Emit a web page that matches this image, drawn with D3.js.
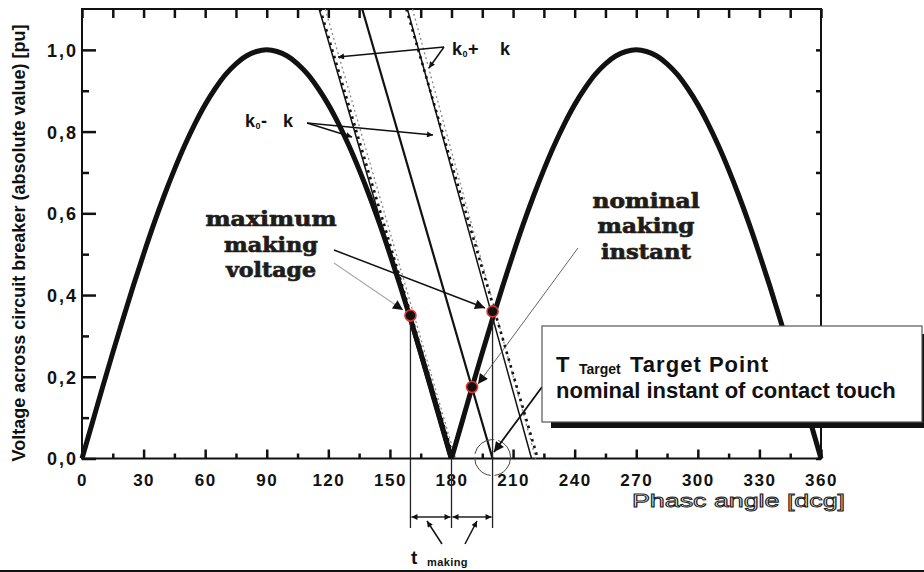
<!DOCTYPE html>
<html>
<head>
<meta charset="utf-8">
<script src="https://cdn.jsdelivr.net/npm/d3@7"></script>
<style>
  body { margin: 0; background: #fff; }
  svg { display: block; font-family: "Liberation Sans", Arial, sans-serif; }
</style>
</head>
<body>
<div class="canvas"></div>
<script>
// canvas size and plot frame
const width = 924;
const height = 572;
const marginTop = 9;
const marginLeft = 82;
const plotRight = 821;
const plotBottom = 458.5;

// voltage across the breaker, every 5 deg (one half wave)
const halfWaveAngles = [0, 5, 10, 15, 20, 25, 30, 35, 40, 45, 50, 55, 60, 65, 70, 75, 80, 85, 90,
  95, 100, 105, 110, 115, 120, 125, 130, 135, 140, 145, 150, 155, 160, 165, 170, 175, 180];
const halfWaveVoltage = [0, 0.087, 0.174, 0.259, 0.342, 0.423, 0.500, 0.574, 0.643, 0.707, 0.766, 0.819, 0.866, 0.906, 0.940, 0.966, 0.985, 0.996, 1.000,
  0.996, 0.985, 0.966, 0.940, 0.906, 0.866, 0.819, 0.766, 0.707, 0.643, 0.574, 0.500, 0.423, 0.342, 0.259, 0.174, 0.087, 0];
const halfWaveStarts = [0, 180];

// axis ticks
const xTicks = [0, 30, 60, 90, 120, 150, 180, 210, 240, 270, 300, 330, 360];
const xMinorTicks = [15, 45, 75, 105, 135, 165, 195, 225, 255, 285, 315, 345];
const yTicks = [0, 0.2, 0.4, 0.6, 0.8, 1.0];
const yTickLabels = ["0,0", "0,2", "0,4", "0,6", "0,8", "1,0"];
const yMinorTicks = [0.1, 0.3, 0.5, 0.7, 0.9];
const yMax = 1.1;

// dielectric strength lines: [angle at top of frame (1.1 pu), angle at 0 pu]
const rddsSolid = [[115.5, 179], [136.5, 200], [158.5, 219]];
const rddsBlackDotted = [[116, 181], [158, 222]];
const rddsGrayDotted = [[118.5, 182], [161, 221]];

// marked points: maximum making voltage, target point, nominal making instant
const markAngles = [160, 190, 200];
const markVoltages = [0.35, 0.175, 0.36];

// t making dimension
const makingAngles = [160, 180, 200];

const x = d3.scaleLinear().domain([0, 360]).range([marginLeft, plotRight]);
const y = d3.scaleLinear().domain([0, yMax]).range([plotBottom, marginTop]);

const svg = d3.select(".canvas").append("svg")
  .attr("width", width)
  .attr("height", height);

// arrow heads
const defs = svg.append("defs");
function marker(id, w, h) {
  defs.append("marker")
    .attr("id", id)
    .attr("viewBox", "0 0 10 10")
    .attr("refX", 10).attr("refY", 5)
    .attr("markerUnits", "userSpaceOnUse")
    .attr("markerWidth", w).attr("markerHeight", h)
    .attr("orient", "auto-start-reverse")
    .append("path").attr("d", "M0,0L10,5L0,10z").attr("fill", "#111");
}
marker("arrow", 12, 10);
marker("arrowSmall", 8, 6);

// axes (ticks pointing inward)
function styleAxis(g) {
  g.select(".domain").remove();
  g.selectAll(".tick line").attr("stroke", "#111").attr("stroke-width", 2.5);
}

svg.append("g")
  .attr("transform", `translate(0,${plotBottom})`)
  .call(d3.axisBottom(x).tickValues(xTicks).tickSize(-9).tickPadding(15))
  .call(styleAxis)
  .call(g => g.selectAll("text")
    .attr("font-size", 17).attr("font-weight", "bold").attr("fill", "#111")
    .attr("letter-spacing", 1.5));

svg.append("g")
  .attr("transform", `translate(0,${plotBottom})`)
  .call(d3.axisBottom(x).tickValues(xMinorTicks).tickSize(-5).tickFormat(""))
  .call(styleAxis);

svg.append("g")
  .attr("transform", `translate(0,${marginTop})`)
  .call(d3.axisTop(x).tickValues(xTicks.concat(xMinorTicks)).tickSize(-9).tickFormat(""))
  .call(styleAxis);

svg.append("g")
  .attr("transform", `translate(${marginLeft},0)`)
  .call(d3.axisLeft(y).tickValues(yTicks).tickSize(-14).tickPadding(4)
    .tickFormat((d, i) => yTickLabels[i]))
  .call(styleAxis)
  .call(g => g.selectAll("text")
    .attr("font-size", 18).attr("font-weight", "bold").attr("fill", "#111")
    .attr("letter-spacing", 2).attr("dy", "0.36em"));

svg.append("g")
  .attr("transform", `translate(${marginLeft},0)`)
  .call(d3.axisLeft(y).tickValues(yMinorTicks).tickSize(-7).tickFormat(""))
  .call(styleAxis);

svg.append("g")
  .attr("transform", `translate(${plotRight},0)`)
  .call(d3.axisRight(y).tickValues(yTicks.concat(yMinorTicks)).tickSize(-5).tickFormat(""))
  .call(styleAxis);

// frame
svg.append("rect")
  .attr("x", marginLeft).attr("y", marginTop)
  .attr("width", plotRight - marginLeft).attr("height", plotBottom - marginTop)
  .attr("fill", "none").attr("stroke", "#111").attr("stroke-width", 2);

// axis titles
svg.append("text")
  .attr("transform", "translate(25,243) rotate(-90)")
  .attr("text-anchor", "middle")
  .attr("font-size", 18).attr("font-weight", "bold").attr("fill", "#111")
  .text("Voltage across circuit breaker (absolute value) [pu]");

// outlined title; the opacity layer keeps the anti-aliasing grey
svg.append("g").attr("opacity", 0.999)
  .append("text")
  .attr("x", 632).attr("y", 507)
  .attr("font-size", 18)
  .attr("fill", "none").attr("stroke", "#222").attr("stroke-width", 0.9)
  .attr("textLength", 213).attr("lengthAdjust", "spacingAndGlyphs")
  .text("Phasc angle [dcg]");

// dielectric strength lines
const seg = d3.line().x(d => x(d[0])).y(d => y(d[1]));
const toPts = d => [[d[0], yMax], [d[1], 0]];

svg.selectAll(".grayDot")
  .data(rddsGrayDotted)
  .join("path")
    .attr("d", d => seg(toPts(d)))
    .attr("fill", "none").attr("stroke", "#8a8a8a")
    .attr("stroke-width", 1.3).attr("stroke-dasharray", "2,3");

svg.selectAll(".blackDot")
  .data(rddsBlackDotted)
  .join("path")
    .attr("d", d => seg(toPts(d)))
    .attr("fill", "none").attr("stroke", "#111")
    .attr("stroke-width", 2.6).attr("stroke-dasharray", "2.6,4.4");

svg.selectAll(".solid")
  .data(rddsSolid)
  .join("path")
    .attr("d", d => seg(toPts(d)))
    .attr("fill", "none").attr("stroke", "#111")
    .attr("stroke-width", (d, i) => i === 1 ? 2.2 : 1.5);

// voltage curve, one path per half wave so the zero is a sharp V
const curve = d3.line().x(d => x(d[0])).y(d => y(d[1])).curve(d3.curveCatmullRom);
svg.selectAll(".wave")
  .data(halfWaveStarts)
  .join("path")
    .attr("d", s => curve(halfWaveAngles.map((a, i) => [s + a, halfWaveVoltage[i]])))
    .attr("fill", "none").attr("stroke", "#111")
    .attr("stroke-width", 5).attr("stroke-linejoin", "round");

// vertical extension lines and t making dimension
const dimY = 517;
svg.selectAll(".ext")
  .data(makingAngles)
  .join("line")
    .attr("x1", d => x(d)).attr("x2", d => x(d))
    .attr("y1", (d, i) => i === 1 ? y(0) : y(markVoltages[i === 0 ? 0 : 2]))
    .attr("y2", 528)
    .attr("stroke", "#222").attr("stroke-width", 1.3);

svg.selectAll(".dim")
  .data(d3.pairs(makingAngles))
  .join("line")
    .attr("x1", d => x(d[0]) + 1).attr("x2", d => x(d[1]) - 1)
    .attr("y1", dimY).attr("y2", dimY)
    .attr("stroke", "#222").attr("stroke-width", 1.3)
    .attr("marker-start", "url(#arrowSmall)")
    .attr("marker-end", "url(#arrowSmall)");

// target circle around the nominal zero crossing
svg.append("circle")
  .attr("cx", x(rddsSolid[1][1])).attr("cy", y(0) - 1).attr("r", 18)
  .attr("fill", "none").attr("stroke", "#444").attr("stroke-width", 1)
  .attr("stroke-dasharray", "26,4");

// leader arrows
function arrow(x1, y1, x2, y2, color, w, m) {
  svg.append("line")
    .attr("x1", x1).attr("y1", y1).attr("x2", x2).attr("y2", y2)
    .attr("stroke", color).attr("stroke-width", w)
    .attr("marker-end", `url(#${m})`);
}
arrow(334, 263, 403, 310, "#aaa", 1.2, "arrow");
arrow(334, 250, 485, 308, "#111", 1.5, "arrow");
arrow(578, 248, 478, 384, "#555", 0.9, "arrow");
arrow(542, 387, 494, 452, "#111", 1.8, "arrow");
arrow(444, 47, 338, 57, "#111", 1.5, "arrowSmall");
arrow(444, 47, 429, 68, "#111", 1.5, "arrowSmall");
arrow(307, 123, 352, 137, "#111", 1.5, "arrowSmall");
arrow(307, 123, 433, 135, "#111", 1.5, "arrowSmall");
arrow(442, 544, 427, 521, "#111", 1.5, "arrowSmall");
arrow(465, 544, 477, 521, "#111", 1.5, "arrowSmall");

// marked points
svg.selectAll(".mark")
  .data(markAngles)
  .join("circle")
    .attr("cx", d => x(d))
    .attr("cy", (d, i) => y(markVoltages[i]))
    .attr("r", 5.5)
    .attr("fill", "#111").attr("stroke", "#e5322b").attr("stroke-width", 1.6);

// serif annotations
function serifLines(lines, cx, baselines, lengths) {
  svg.selectAll(null)
    .data(lines)
    .join("text")
      .attr("x", cx).attr("y", (d, i) => baselines[i])
      .attr("text-anchor", "middle")
      .attr("font-family", "'DejaVu Serif', 'Liberation Serif', serif")
      .attr("font-weight", "bold").attr("font-size", 20)
      .attr("fill", "#221c19").attr("stroke", "#221c19").attr("stroke-width", 0.7)
      .attr("textLength", (d, i) => lengths[i]).attr("lengthAdjust", "spacingAndGlyphs")
      .text(d => d);
}
serifLines(["maximum", "making", "voltage"], 271, [226, 252, 277], [131, 94, 90]);
serifLines(["nominal", "making", "instant"], 646, [208, 233, 259], [107, 97, 90]);

// k labels
function kLabel(x0, yb, sign, xk) {
  const g = svg.append("g").attr("font-weight", "bold").attr("fill", "#111");
  g.append("text").attr("x", x0).attr("y", yb).attr("font-size", 18).text("k");
  g.append("text").attr("x", x0 + 10.5).attr("y", yb + 2).attr("font-size", 9).text("0");
  g.append("text").attr("x", x0 + 16).attr("y", yb).attr("font-size", 18).text(sign);
  g.append("text").attr("x", xk).attr("y", yb).attr("font-size", 18).text("k");
}
kLabel(245, 127, "-", 283);
kLabel(452, 55, "+", 500);

// t making label
svg.append("text").attr("x", 411).attr("y", 564)
  .attr("font-size", 19).attr("font-weight", "bold").attr("fill", "#111").text("t");
svg.append("text").attr("x", 427).attr("y", 566)
  .attr("font-size", 11).attr("font-weight", "bold").attr("fill", "#111")
  .attr("letter-spacing", 0.4).text("making");

// callout box with shadow
svg.append("rect")
  .attr("x", 551).attr("y", 334).attr("width", 380).attr("height", 94)
  .attr("fill", "#111");
svg.append("rect")
  .attr("x", 542).attr("y", 326).attr("width", 380).attr("height", 96)
  .attr("fill", "#fff").attr("stroke", "#555").attr("stroke-width", 1.2);

const box = svg.append("g").attr("font-weight", "bold").attr("fill", "#111");
box.append("text").attr("x", 556).attr("y", 372).attr("font-size", 22).text("T");
box.append("text").attr("x", 579).attr("y", 374).attr("font-size", 14).text("Target");
box.append("text").attr("x", 630).attr("y", 372).attr("font-size", 22)
  .attr("textLength", 138).text("Target Point");
box.append("text").attr("x", 556).attr("y", 398).attr("font-size", 22)
  .text("nominal instant of contact touch");

// bottom rule
svg.append("line")
  .attr("x1", 0).attr("x2", width).attr("y1", 571).attr("y2", 571)
  .attr("stroke", "#111").attr("stroke-width", 2);
</script>
</body>
</html>
